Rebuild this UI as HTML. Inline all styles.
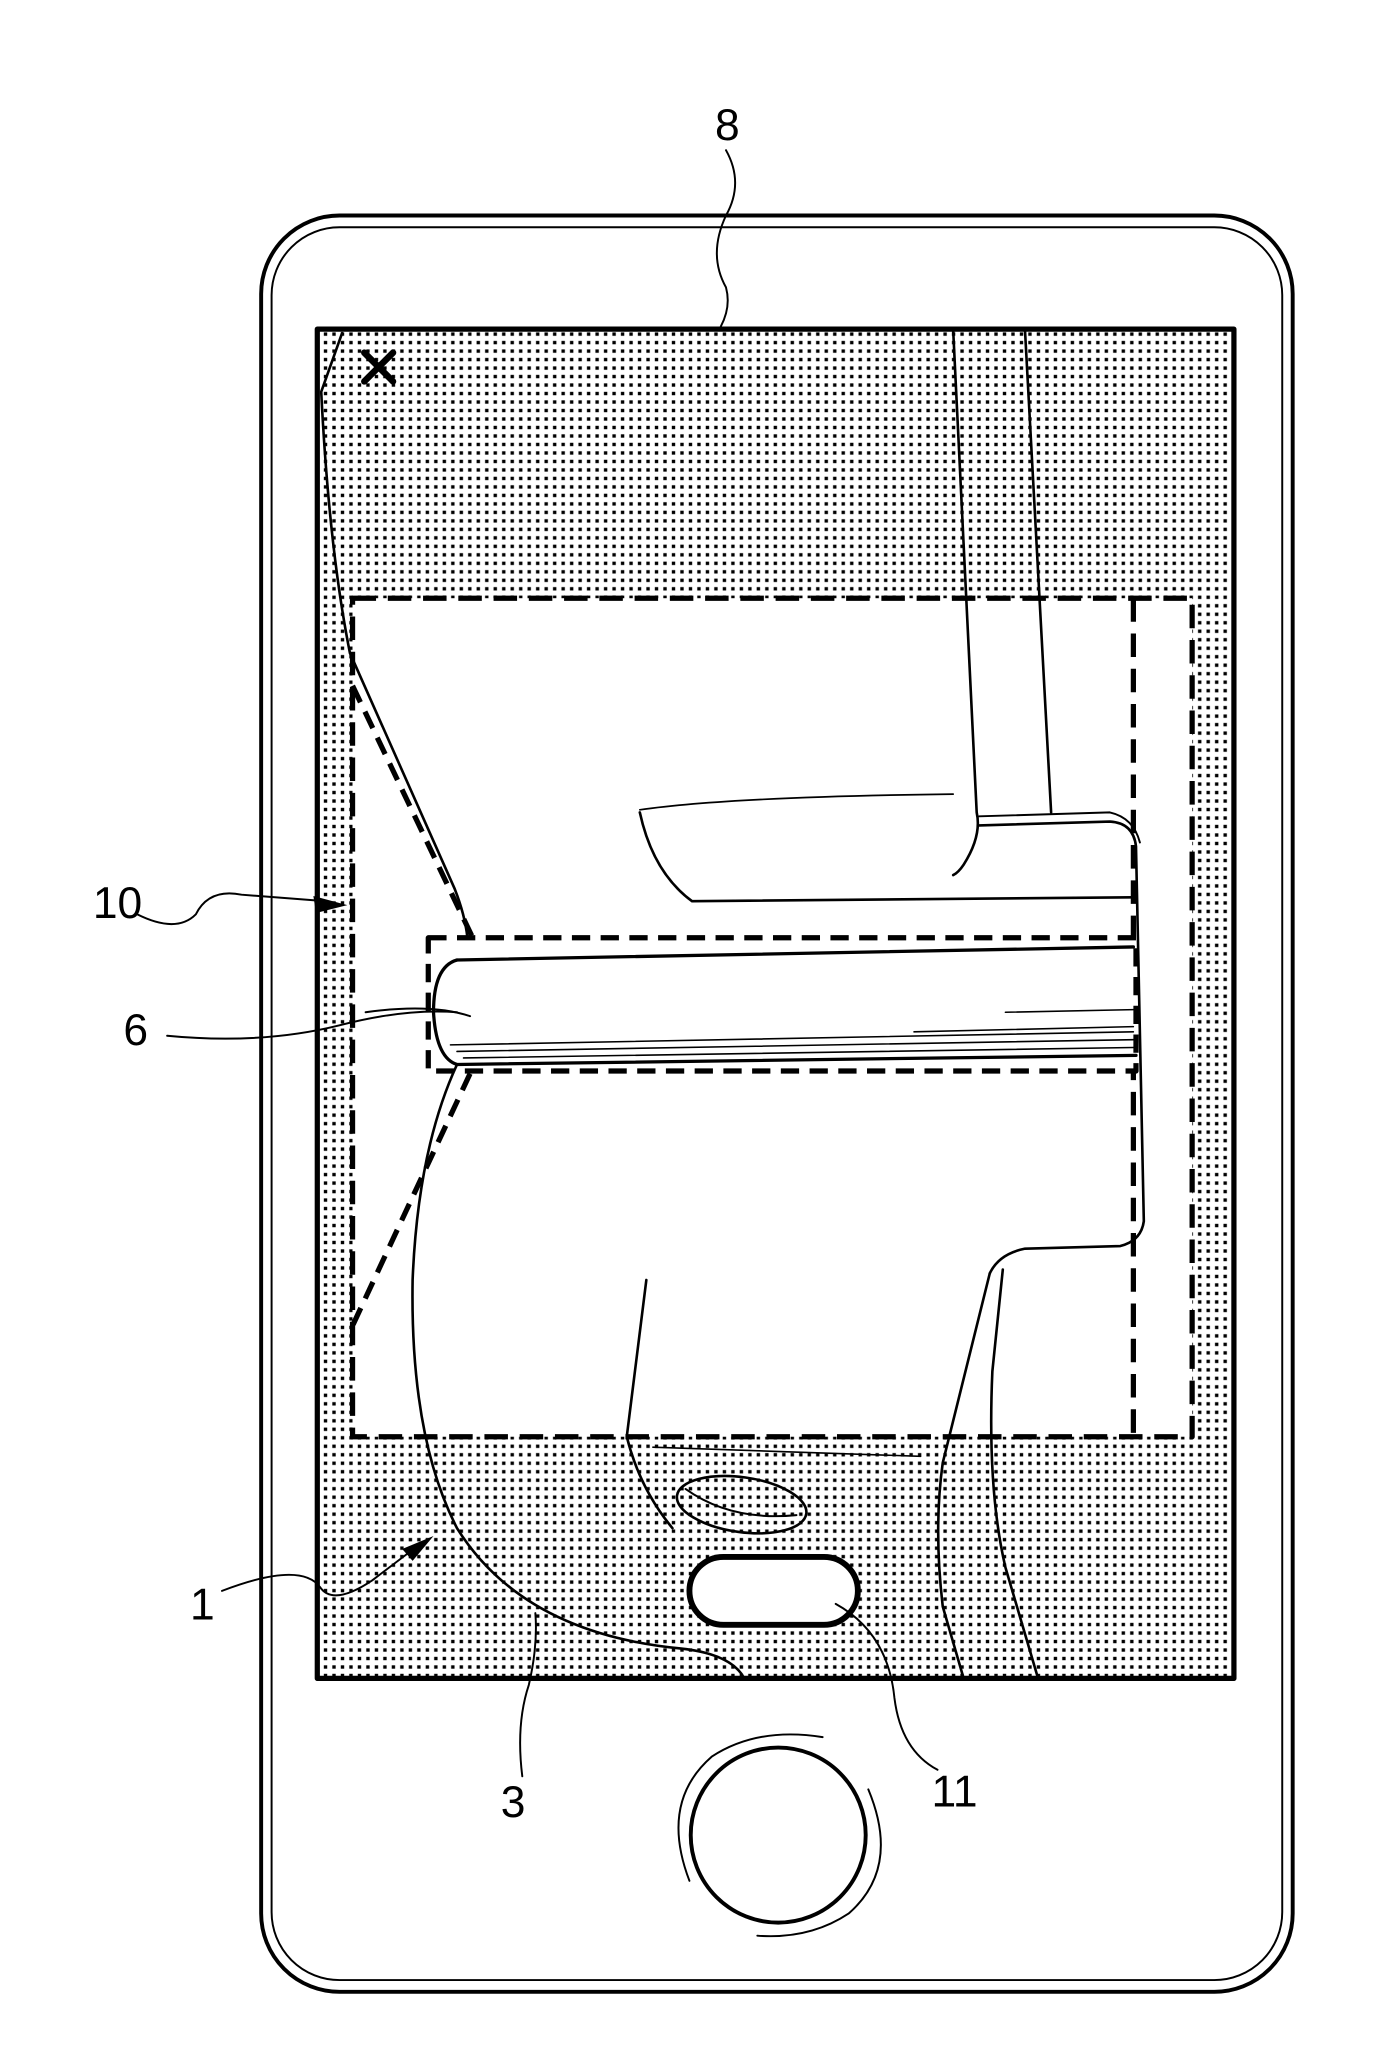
<!DOCTYPE html>
<html><head><meta charset="utf-8"><style>html,body{margin:0;padding:0;background:#fff}svg{display:block}</style></head>
<body>
<svg width="1388" height="2048" viewBox="0 0 1063 1568" preserveAspectRatio="none" xmlns="http://www.w3.org/2000/svg">
<defs>
<pattern id="dots" width="6.5" height="6.5" patternUnits="userSpaceOnUse">
<rect x="1" y="1" width="2.6" height="2.6" fill="#000"/>
</pattern>
</defs>
<g fill="none" stroke="#000" stroke-linecap="round" stroke-linejoin="round">
<rect x="200" y="165" width="790" height="1360" rx="60" stroke-width="3"/>
<rect x="208" y="174" width="774" height="1342" rx="52" stroke-width="1.5"/>
<rect x="243" y="252" width="702" height="1033" fill="url(#dots)" stroke-width="4"/>
<rect x="270" y="458" width="643" height="642" fill="#fff" stroke="none"/>
<rect x="270" y="458" width="643" height="642" stroke-width="4" stroke-dasharray="18 9" stroke-linecap="butt"/>
<line x1="868" y1="458" x2="868" y2="1100" stroke-width="4" stroke-dasharray="18 9" stroke-linecap="butt"/>
<rect x="328" y="718" width="542" height="102" stroke-width="4" stroke-dasharray="14 8" stroke-linecap="butt" fill="#fff"/>
<line x1="270" y1="525" x2="362" y2="718" stroke-width="4" stroke-dasharray="14 8" stroke-linecap="butt"/>
<line x1="360" y1="822" x2="270" y2="1015" stroke-width="4" stroke-dasharray="14 8" stroke-linecap="butt"/>
<path d="M279 270 L301 292 M301 270 L279 292" stroke-width="5"/>
<path d="M262 255 L246 300 Q252 420 268 500 L348 680 Q356 700 358 718" stroke-width="2"/>
<path d="M350 815 Q320 880 316 980 Q314 1100 350 1170 Q400 1250 520 1262 Q560 1266 570 1285" stroke-width="2"/>
<path d="M350 735 L868 725" stroke-width="2.5"/>
<path d="M350 735 Q332 740 332 775 Q334 810 350 815 L870 808" stroke-width="2.5"/>
<path d="M345 800 L868 790 M350 805 L868 796 M355 810 L868 802 M700 790 L868 786 M770 775 L868 773" stroke-width="1.2"/>
<path d="M280 775 Q330 768 360 778" stroke-width="1.5"/>
<path d="M490 622 Q500 668 530 690 L868 687" stroke-width="2"/>
<path d="M490 620 Q560 610 730 608" stroke-width="1.3"/>
<path d="M730 253 L748 622 Q752 640 738 662 Q734 668 730 670" stroke-width="2"/>
<path d="M785 253 L805 622" stroke-width="2"/>
<path d="M750 632 L850 629 Q868 630 870 648 L876 935 Q874 950 858 954 L785 956 Q765 960 758 975" stroke-width="2"/>
<path d="M750 625 L850 622 Q868 626 873 645" stroke-width="1.5"/>
<path d="M758 975 L722 1120 Q715 1170 722 1230 L738 1285" stroke-width="2"/>
<path d="M768 972 L760 1050 Q756 1140 770 1200 L795 1285" stroke-width="2"/>
<path d="M495 980 L480 1100 Q490 1140 515 1170" stroke-width="2"/>
<path d="M500 1108 L705 1115" stroke-width="1.2"/>
<ellipse cx="568" cy="1152" rx="50" ry="21" transform="rotate(8 568 1152)" stroke-width="2"/>
<path d="M525 1140 Q560 1165 610 1160" stroke-width="1.5"/>
<rect x="528" y="1192" width="129" height="52" rx="26" fill="#fff" stroke-width="4.5"/>
<circle cx="596" cy="1405" r="67" stroke-width="3"/>
<path d="M528 1440 Q505 1380 545 1345 Q580 1322 630 1330" stroke-width="1.5"/>
<path d="M665 1370 Q690 1430 650 1465 Q620 1485 580 1482" stroke-width="1.5"/>
<path d="M556 115 Q570 140 556 165 Q542 195 556 220 Q560 235 552 250" stroke-width="1.5"/>
<path d="M105 700 Q135 715 150 700 Q160 680 185 685 L250 690" stroke-width="1.5"/>
<path d="M128 793 Q200 800 260 785 Q310 772 350 775" stroke-width="1.5"/>
<path d="M170 1218 Q230 1195 245 1215 Q255 1230 285 1210 L318 1185" stroke-width="1.5"/>
<path d="M400 1360 Q395 1320 405 1290 Q412 1260 410 1235" stroke-width="1.5"/>
<path d="M718 1355 Q690 1340 685 1300 Q680 1250 640 1228" stroke-width="1.5"/>
</g>
<polygon points="266,693 240,686 242,699" fill="#000"/>
<polygon points="332,1176 308,1186 316,1195" fill="#000"/>
<g font-family="Liberation Sans, sans-serif" font-size="34" fill="#000" text-anchor="middle">
<text x="557" y="107">8</text>
<text x="90" y="703">10</text>
<text x="104" y="800">6</text>
<text x="155" y="1240">1</text>
<text x="393" y="1391">3</text>
<text x="731" y="1383">11</text>
</g>
</svg>
</body></html>
